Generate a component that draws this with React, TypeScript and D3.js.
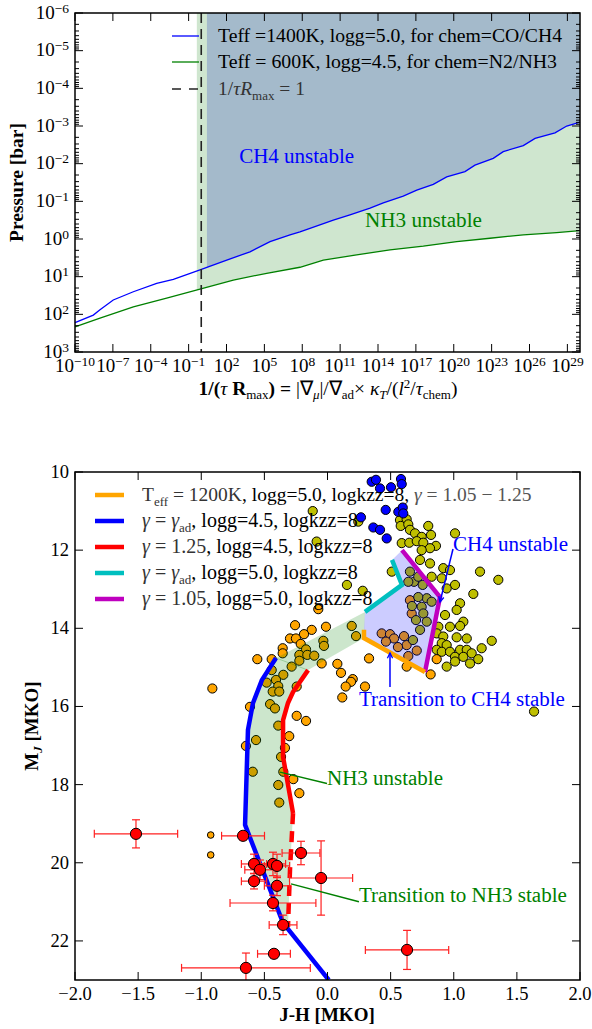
import React, { useEffect } from "react";
import * as d3 from "d3";

type P = [number, number];

const FONT = "'Liberation Serif', 'Times New Roman', serif";
const MATH = "#333";

// ---------------- Top panel data (log10 values) ----------------
const topXTickExps = d3.range(-10, 30, 3);
const topYTickExps = d3.range(-6, 4, 1);
// [log10(1/(tau Rmax)), log10(P/bar)]
const ch4Boundary: P[] = [
  [-10, 2.22], [-8.55, 2.02], [-8.02, 1.88], [-6.97, 1.62], [-5.38, 1.4], [-3.53, 1.18],
  [-2.21, 1.07], [-0.1, 0.82], [2.02, 0.56], [3.86, 0.34], [5.45, 0.07], [7.03, -0.11],
  [7.82, -0.19], [8.61, -0.28], [10.46, -0.5], [11.78, -0.64], [13.37, -0.82], [14.42, -0.96],
  [16.0, -1.14], [17.07, -1.3], [18.38, -1.45], [19.44, -1.65], [20.89, -1.79], [21.68, -1.96],
  [23.13, -2.14], [23.92, -2.32], [25.51, -2.48], [26.44, -2.67], [28.02, -2.82], [28.95, -3.0],
  [30, -3.1],
];
const nh3Boundary: P[] = [
  [-10, 2.33], [-8.02, 2.1], [-5.38, 1.8], [-2.74, 1.57], [-0.1, 1.33], [2.54, 1.09],
  [5.18, 0.91], [7.82, 0.75], [9.67, 0.56], [12.31, 0.42], [14.95, 0.29], [17.59, 0.19],
  [20.23, 0.07], [22.87, -0.02], [25.51, -0.11], [28.15, -0.17], [30, -0.22],
];
const nh3FillStart = -0.35;
const ch4FillStart = 0.45;
const unityExp = 0;
const ch4TopLabel: P = [3.0, -2.02];
const nh3TopLabel: P = [12.97, -0.32];
const topLegendLabels = [
  "Teff =1400K, logg=5.0, for chem=CO/CH4",
  "Teff = 600K, logg=4.5, for chem=N2/NH3",
];

// ---------------- Bottom panel data ----------------
const xTicksB = [-2, -1.5, -1, -0.5, 0, 0.5, 1, 1.5, 2];
const yTicksB = [10, 12, 14, 16, 18, 20, 22];

const bluePts: P[] = [
  [0.35, 10.25], [0.384, 10.2], [0.416, 10.42], [0.503, 10.39], [0.582, 10.18], [0.588, 10.31],
  [0.461, 10.97], [0.561, 11.02], [0.596, 10.91], [0.6, 11.06], [0.363, 11.42], [0.416, 11.48],
  [0.469, 11.7], [0.265, 11.16],
];

const yellowPts: P[] = [
  [-0.117, 11.0], [0.244, 11.27], [-0.086, 11.78], [0.154, 12.89], [0.279, 13.04],
  [0.574, 11.23], [0.627, 11.21], [0.58, 11.38], [0.64, 11.34], [0.798, 11.38], [0.653, 11.48],
  [0.693, 11.57], [0.746, 11.66], [0.82, 11.61], [1.01, 11.57], [0.588, 11.82], [0.648, 11.81],
  [0.707, 11.77], [0.759, 11.81], [0.859, 11.89], [0.812, 11.95], [0.746, 12.0], [0.733, 12.25],
  [0.812, 12.34], [0.509, 12.55], [0.917, 12.46], [0.97, 12.51], [0.825, 12.68], [0.905, 12.72],
  [1.01, 12.89], [1.208, 12.55], [1.353, 12.76], [1.155, 13.12], [0.944, 12.98], [1.05, 13.36],
  [1.023, 13.53], [0.931, 13.66], [1.076, 13.83], [0.878, 13.96], [0.97, 13.96], [1.05, 13.94],
  [0.865, 14.13], [0.917, 14.21], [1.023, 14.23], [1.103, 14.26], [1.301, 14.32], [0.905, 14.38],
  [0.944, 14.43], [0.865, 14.55], [0.905, 14.6], [1.05, 14.55], [1.103, 14.55], [0.97, 14.6],
  [1.01, 14.73], [1.076, 14.73], [1.142, 14.64], [1.221, 14.51], [1.194, 14.79], [1.129, 14.9],
  [1.01, 14.85], [0.944, 14.98], [1.636, 16.13],
  [0.653, 12.55], [0.685, 12.81], [0.64, 12.81], [0.719, 12.68], [0.754, 12.89], [0.786, 13.23],
  [0.825, 13.32], [0.746, 13.45], [0.759, 13.62], [0.786, 13.83], [0.719, 13.2], [0.669, 13.43],
  [0.701, 13.79], [0.733, 14.04], [0.677, 14.3],
];

const orangePts: P[] = [
  [-0.073, 13.51], [-0.257, 13.92], [-0.125, 14.04], [-0.186, 14.15], [-0.297, 14.26], [-0.25, 14.26],
  [-0.012, 13.96], [0.192, 13.94], [0.226, 14.2], [-0.033, 14.32], [-0.028, 14.45], [-0.212, 14.4],
  [-0.355, 14.51], [-0.355, 14.64], [-0.17, 14.54], [-0.223, 14.68], [-0.16, 14.68], [-0.105, 14.7],
  [-0.223, 14.83], [-0.284, 14.98], [-0.556, 14.79], [-0.442, 14.79], [-0.046, 14.9], [0.078, 14.91],
  [0.329, 14.77], [0.107, 15.14], [0.2, 15.3], [0.186, 15.37], [0.144, 15.49], [0.297, 15.49],
  [0.117, 15.77], [-0.244, 15.49], [-0.35, 15.19], [-0.408, 15.32], [-0.482, 15.39], [-0.39, 15.48],
  [-0.455, 15.94], [-0.416, 16.05], [-0.614, 16.01], [-0.912, 15.54], [-0.244, 16.24], [-0.17, 16.37],
  [-0.39, 16.49], [-0.442, 15.07], [-0.434, 15.62], [-0.382, 15.62], [-0.303, 16.76], [-0.566, 16.86],
  [-0.646, 17.01], [-0.337, 17.06], [-0.368, 17.29], [-0.592, 17.67], [-0.35, 17.67], [-0.271, 17.86],
  [-0.39, 18.01], [-0.382, 18.46], [-0.223, 18.22], [0.817, 15.18], [0.865, 14.79], [0.627, 14.98],
  [0.653, 13.28], [0.667, 13.62], [0.429, 14.13], [0.495, 14.15], [0.527, 14.26], [0.606, 14.2],
  [0.627, 14.43], [0.707, 14.57], [0.463, 14.34], [0.64, 14.71], [0.558, 14.48],
];
const orangeSmallPts: P[] = [[-0.925, 19.29], [-0.925, 19.8]];

// [x, y, xerr, yerr]
const redPts: [number, number, number, number][] = [
  [-1.517, 19.26, 0.33, 0.36], [-0.669, 19.31, 0.17, 0.1], [-0.582, 20.03, 0.1, 0.25],
  [-0.535, 20.18, 0.12, 0.25], [-0.432, 20.03, 0.1, 0.3], [-0.4, 20.08, 0.1, 0.3],
  [-0.582, 20.47, 0.1, 0.2], [-0.4, 20.59, 0.1, 0.25], [-0.432, 21.03, 0.34, 0.2],
  [-0.352, 21.59, 0.11, 0.25], [-0.424, 22.33, 0.13, 0.1], [-0.646, 22.69, 0.51, 0.38],
  [-0.21, 19.75, 0.15, 0.3], [-0.051, 20.39, 0.25, 0.95], [0.63, 22.23, 0.33, 0.5],
];

const gammaAdLogg45: P[] = [
  [-0.408, 14.76], [-0.519, 15.32], [-0.59, 15.91], [-0.63, 16.6], [-0.653, 19.03], [-0.352, 21.54], [0.01, 23.0],
];
const gamma125Solid: P[] = [
  [-0.154, 15.07], [-0.273, 15.63], [-0.313, 15.91], [-0.352, 16.35], [-0.352, 17.29], [-0.273, 18.73],
];
const gamma125Dashed: P[] = [[-0.273, 18.73], [-0.297, 20.18], [-0.313, 21.64]];
const gammaAdLogg50: P[] = [[0.297, 13.58], [0.59, 12.89], [0.511, 12.25]];
const gamma105Logg50: P[] = [[0.59, 12.0], [0.891, 13.2], [0.772, 15.12]];
const teff1200: P[] = [[0.289, 14.04], [0.289, 14.25], [0.772, 15.12]];
const nh3Band: P[] = [
  [0.297, 13.58], [-0.408, 14.76], [-0.519, 15.32], [-0.59, 15.91], [-0.63, 16.6], [-0.653, 19.03],
  [-0.352, 21.54], [-0.313, 21.64], [-0.297, 20.18], [-0.273, 18.73], [-0.352, 17.29], [-0.352, 16.35],
  [-0.313, 15.91], [-0.273, 15.63], [-0.154, 15.07], [0.289, 14.25],
];
const bandTopEdge: P[] = [[-0.408, 14.76], [-0.154, 15.07]];
const ch4Region: P[] = [
  [0.297, 13.58], [0.59, 12.89], [0.511, 12.25], [0.59, 12.0], [0.891, 13.2], [0.772, 15.12], [0.289, 14.25], [0.289, 14.04],
];
const ch4Note = { label: "CH4 unstable", len: 115, text: [0.994, 12.02] as P, from: [0.994, 11.97] as P, to: [0.891, 13.33] as P };
const ch4TransNote = { label: "Transition to CH4 stable", len: 206, text: [0.249, 15.99] as P, from: [0.495, 15.5] as P, to: [0.495, 14.63] as P };
const nh3Note = { label: "NH3 unstable", len: 116, text: [-0.004, 18.01] as P, from: [-0.004, 17.97] as P, to: [-0.376, 17.68] as P };
const nh3TransNote = { label: "Transition to NH3 stable", len: 208, text: [0.249, 21.0] as P, from: [0.249, 21.0] as P, to: [-0.289, 20.54] as P };

const legendColors = ["#ffa500", "#0000ff", "#ff0000", "#00bfbf", "#bf00bf"];

function clipFrom(data: P[], s: number): P[] {
  const i = data.findIndex((d) => d[0] >= s);
  const a = data[i - 1];
  const b = data[i];
  const t = (s - a[0]) / (b[0] - a[0]);
  return [[s, a[1] + t * (b[1] - a[1])], ...data.slice(i)];
}

const minus = (v: number | string) => String(v).replace("-", "\u2212");

function Pow10({ e }: { e: number }) {
  return (
    <>
      10<tspan dy={-6} fontSize={13.5}>{minus(e)}</tspan>
    </>
  );
}

function TopChart() {
  const L = 75, R = 580, T = 13, B = 352;
  const x = d3.scaleLog().domain([1e-10, 1e30]).range([L, R]);
  const y = d3.scaleLog().domain([1e-6, 1e3]).range([T, B]);
  const fx = (e: number) => x(Math.pow(10, e));
  const fy = (e: number) => y(Math.pow(10, e));
  const line = d3.line<P>().x((d) => fx(d[0])).y((d) => fy(d[1]));
  const area = d3.area<P>().x((d) => fx(d[0])).y0(y(1e-6)).y1((d) => fy(d[1]));
  const minorY: number[] = [];
  for (let e = -6; e < 3; e++) for (let k = 2; k < 10; k++) minorY.push(k * Math.pow(10, e));
  return (
    <g>
      <path d={area(clipFrom(nh3Boundary, nh3FillStart)) || ""} fill="#cfe6cf" />
      <path d={area(clipFrom(ch4Boundary, ch4FillStart)) || ""} fill="#a4bacb" />
      <path d={line(ch4Boundary) || ""} fill="none" stroke="#0000ff" strokeWidth={1.3} />
      <path d={line(nh3Boundary) || ""} fill="none" stroke="#008000" strokeWidth={1.3} />
      <line x1={fx(unityExp)} x2={fx(unityExp)} y1={T} y2={B} stroke="#222" strokeWidth={1.6} strokeDasharray="10 6" />
      <text x={fx(ch4TopLabel[0])} y={fy(ch4TopLabel[1])} fill="#0000ff" fontSize={20.5} textLength={115} lengthAdjust="spacingAndGlyphs">CH4 unstable</text>
      <text x={fx(nh3TopLabel[0])} y={fy(nh3TopLabel[1])} fill="#008000" fontSize={20.5} textLength={117} lengthAdjust="spacingAndGlyphs">NH3 unstable</text>
      {/* legend */}
      <line x1={172} x2={199} y1={36} y2={36} stroke="#0000ff" strokeWidth={1.3} />
      <line x1={172} x2={199} y1={62} y2={62} stroke="#008000" strokeWidth={1.3} />
      <line x1={172} x2={199} y1={89} y2={89} stroke="#222" strokeWidth={1.6} strokeDasharray="9 8" />
      <text x={218} y={42} fontSize={19.5} textLength={344} lengthAdjust="spacingAndGlyphs">{topLegendLabels[0]}</text>
      <text x={218} y={68} fontSize={19.5} textLength={339} lengthAdjust="spacingAndGlyphs">{topLegendLabels[1]}</text>
      <text x={218} y={95} fontSize={19.5} fill={MATH}>
        1/<tspan fontStyle="italic">τR</tspan>
        <tspan fontSize={13} dy={5}>max</tspan>
        <tspan dy={-5}>{" = 1"}</tspan>
      </text>
      {/* frame + ticks */}
      <rect x={L} y={T} width={R - L} height={B - T} fill="none" stroke="#000" strokeWidth={1.5} />
      {topXTickExps.map((e) => (
        <g key={"xt" + e}>
          <line x1={fx(e)} x2={fx(e)} y1={B} y2={B - 8} stroke="#000" />
          <line x1={fx(e)} x2={fx(e)} y1={T} y2={T + 8} stroke="#000" />
          <text x={fx(e)} y={372} textAnchor="middle" fontSize={19}><Pow10 e={e} /></text>
        </g>
      ))}
      {topYTickExps.map((e) => (
        <g key={"yt" + e}>
          <line x1={L} x2={L + 8} y1={fy(e)} y2={fy(e)} stroke="#000" />
          <line x1={R} x2={R - 8} y1={fy(e)} y2={fy(e)} stroke="#000" />
          <text x={69} y={fy(e) + 5.5} textAnchor="end" fontSize={19}><Pow10 e={e} /></text>
        </g>
      ))}
      {minorY.map((v, i) => (
        <g key={"my" + i}>
          <line x1={L} x2={L + 4} y1={y(v)} y2={y(v)} stroke="#000" />
          <line x1={R} x2={R - 4} y1={y(v)} y2={y(v)} stroke="#000" />
        </g>
      ))}
      <text transform={`translate(23,${(T + B) / 2}) rotate(-90)`} textAnchor="middle" fontSize={19.5} fontWeight="bold">
        Pressure [bar]
      </text>
      <text x={328} y={395} textAnchor="middle" fontSize={19.5}>
        <tspan fontWeight="bold">1/(</tspan>
        <tspan fontStyle="italic">τ</tspan>
        <tspan fontWeight="bold">{" R"}</tspan>
        <tspan fontSize={13} dy={4}>max</tspan>
        <tspan dy={-4} fontWeight="bold">{") = "}</tspan>
        <tspan>|∇</tspan>
        <tspan fontSize={13} dy={4} fontStyle="italic">μ</tspan>
        <tspan dy={-4}>|/∇</tspan>
        <tspan fontSize={13} dy={4}>ad</tspan>
        <tspan dy={-4}>{"× "}</tspan>
        <tspan fontStyle="italic">κ</tspan>
        <tspan fontSize={13} dy={4} fontStyle="italic">T</tspan>
        <tspan dy={-4}>/(</tspan>
        <tspan fontStyle="italic">l</tspan>
        <tspan fontSize={13} dy={-7}>2</tspan>
        <tspan dy={7}>/</tspan>
        <tspan fontStyle="italic">τ</tspan>
        <tspan fontSize={13} dy={4}>chem</tspan>
        <tspan dy={-4}>)</tspan>
      </text>
    </g>
  );
}

function BottomChart() {
  const L = 75, R = 580, T = 472, B = 980;
  const x = d3.scaleLinear().domain([-2, 2]).range([L, R]);
  const y = d3.scaleLinear().domain([10, 23]).range([T, B]);
  const line = d3.line<P>().x((d) => x(d[0])).y((d) => y(d[1]));
  const poly = (d: P[]) => (line(d) || "") + "Z";
  const dot = (pts: P[], fill: string, r: number, key: string) =>
    pts.map((d, i) => (
      <circle key={key + i} cx={x(d[0])} cy={y(d[1])} r={r} fill={fill} stroke="#000" strokeWidth={1} />
    ));
  const arrowHead = (from: P, to: P, color: string) => {
    const x0 = x(from[0]), y0 = y(from[1]), x1 = x(to[0]), y1 = y(to[1]);
    const ang = Math.atan2(y1 - y0, x1 - x0);
    const s = 6, w = 0.45;
    const p1 = [x1 - s * Math.cos(ang - w), y1 - s * Math.sin(ang - w)];
    const p2 = [x1 - s * Math.cos(ang + w), y1 - s * Math.sin(ang + w)];
    return <path d={`M${p1[0]},${p1[1]}L${x1},${y1}L${p2[0]},${p2[1]}`} fill="none" stroke={color} strokeWidth={1.3} />;
  };
  const note = (n: { label: string; len: number; text: P; from: P; to: P }, color: string, head: boolean) => (
    <g>
      <line x1={x(n.from[0])} y1={y(n.from[1])} x2={x(n.to[0])} y2={y(n.to[1])} stroke={color} strokeWidth={1.5} />
      {head && arrowHead(n.from, n.to, color)}
      <text x={x(n.text[0])} y={y(n.text[1])} fill={color} fontSize={20.5} textLength={n.len} lengthAdjust="spacingAndGlyphs">{n.label}</text>
    </g>
  );
  const legY = [495, 521, 547, 573, 599];
  return (
    <g>
      <defs>
        <clipPath id="bclip"><rect x={L} y={T} width={R - L} height={B - T} /></clipPath>
      </defs>
      <g clipPath="url(#bclip)">
        {dot(orangePts, "#ffa500", 4.6, "o")}
        {dot(yellowPts, "#bfbf00", 4.6, "y")}
        {dot(bluePts, "#0000ff", 4.6, "b")}
        {dot(orangeSmallPts, "#ffa500", 3.3, "os")}
        <path d={poly(nh3Band)} fill="#008000" fillOpacity={0.2} />
        <path d={poly(ch4Region)} fill="#0000ff" fillOpacity={0.2} />
        <path d={line(bandTopEdge) || ""} stroke="#008000" strokeOpacity={0.25} strokeWidth={1} fill="none" />
        <path d={line(gammaAdLogg45) || ""} stroke="#0000ff" strokeWidth={4.5} fill="none" strokeLinejoin="round" />
        <path d={line(gamma125Solid) || ""} stroke="#ff0000" strokeWidth={4.5} fill="none" strokeLinejoin="round" />
        <path d={line(gamma125Dashed) || ""} stroke="#ff0000" strokeWidth={4.5} fill="none" strokeDasharray="11 7" />
        <path d={line(gammaAdLogg50) || ""} stroke="#00bfbf" strokeWidth={4.5} fill="none" />
        <path d={line(gamma105Logg50) || ""} stroke="#bf00bf" strokeWidth={4.5} fill="none" />
        <path d={line(teff1200) || ""} stroke="#ffa500" strokeWidth={4.5} fill="none" />
        {redPts.map(([cx, cy, ex, ey], i) => (
          <g key={"r" + i} stroke="#ff2020" strokeWidth={1.2}>
            <line x1={x(cx - ex)} x2={x(cx + ex)} y1={y(cy)} y2={y(cy)} />
            <line x1={x(cx)} x2={x(cx)} y1={y(cy - ey)} y2={y(cy + ey)} />
            <line x1={x(cx - ex)} x2={x(cx - ex)} y1={y(cy) - 4} y2={y(cy) + 4} />
            <line x1={x(cx + ex)} x2={x(cx + ex)} y1={y(cy) - 4} y2={y(cy) + 4} />
            <line x1={x(cx) - 4} x2={x(cx) + 4} y1={y(cy - ey)} y2={y(cy - ey)} />
            <line x1={x(cx) - 4} x2={x(cx) + 4} y1={y(cy + ey)} y2={y(cy + ey)} />
          </g>
        ))}
        {dot(redPts.map((d) => [d[0], d[1]] as P), "#ff0000", 5.6, "rd")}
      </g>
      {note(ch4Note, "#0000ff", true)}
      {note(ch4TransNote, "#0000ff", true)}
      {note(nh3Note, "#008000", false)}
      {note(nh3TransNote, "#008000", false)}
      {/* legend */}
      {legendColors.map((c, i) => (
        <line key={"lg" + i} x1={95} x2={124} y1={legY[i]} y2={legY[i]} stroke={c} strokeWidth={4.5} />
      ))}
      <text x={142} y={legY[0] + 6} fontSize={19.5}>
        <tspan fill={MATH}>T</tspan>
        <tspan fill={MATH} fontSize={13} dy={5}>eff</tspan>
        <tspan dy={-5} fill={MATH}>{" = 1200K"}</tspan>
        <tspan>{", logg=5.0, logkzz=8, "}</tspan>
        <tspan fill="#555" fontStyle="italic">γ</tspan>
        <tspan fill="#555">{" = 1.05 \u2212 1.25"}</tspan>
      </text>
      {[
        ["ad", "4.5"],
        ["1.25", "4.5"],
        ["ad", "5.0"],
        ["1.05", "5.0"],
      ].map(([g, lg], i) => (
        <text key={"lt" + i} x={142} y={legY[i + 1] + 6} fontSize={20}>
          <tspan fill={MATH} fontStyle="italic">γ</tspan>
          <tspan fill={MATH}>{" = "}</tspan>
          {g === "ad" ? (
            <>
              <tspan fill={MATH} fontStyle="italic">γ</tspan>
              <tspan fill={MATH} fontSize={13} dy={5}>ad</tspan>
              <tspan dy={-5}>{`, logg=${lg}, logkzz=8`}</tspan>
            </>
          ) : (
            <>
              <tspan fill={MATH}>{g}</tspan>
              <tspan>{`, logg=${lg}, logkzz=8`}</tspan>
            </>
          )}
        </text>
      ))}
      {/* frame + ticks */}
      <rect x={L} y={T} width={R - L} height={B - T} fill="none" stroke="#000" strokeWidth={1.5} />
      {xTicksB.map((v) => (
        <g key={"bx" + v}>
          <line x1={x(v)} x2={x(v)} y1={B} y2={B - 8} stroke="#000" />
          <line x1={x(v)} x2={x(v)} y1={T} y2={T + 8} stroke="#000" />
          <text x={x(v)} y={1000} textAnchor="middle" fontSize={18.5}>{minus(d3.format(".1f")(v))}</text>
        </g>
      ))}
      {yTicksB.map((v) => (
        <g key={"by" + v}>
          <line x1={L} x2={L + 8} y1={y(v)} y2={y(v)} stroke="#000" />
          <line x1={R} x2={R - 8} y1={y(v)} y2={y(v)} stroke="#000" />
          <text x={69} y={y(v) + 6} textAnchor="end" fontSize={18.5}>{v}</text>
        </g>
      ))}
      <text transform={`translate(38,726) rotate(-90)`} textAnchor="middle" fontSize={19} fontWeight="bold">
        M<tspan fontSize={13} dy={4} fontStyle="italic">J</tspan>
        <tspan dy={-4}>{" [MKO]"}</tspan>
      </text>
      <text x={327} y={1021} textAnchor="middle" fontSize={19} fontWeight="bold">J-H [MKO]</text>
    </g>
  );
}

export default function App() {
  useEffect(() => {
    document.body.style.margin = "0";
  }, []);
  return (
    <svg
      width={592}
      height={1029}
      viewBox="0 0 592 1029"
      style={{ position: "absolute", left: 0, top: 0, display: "block" }}
      fontFamily={FONT}
    >
      <rect width={592} height={1029} fill="#fff" />
      <TopChart />
      <BottomChart />
    </svg>
  );
}
